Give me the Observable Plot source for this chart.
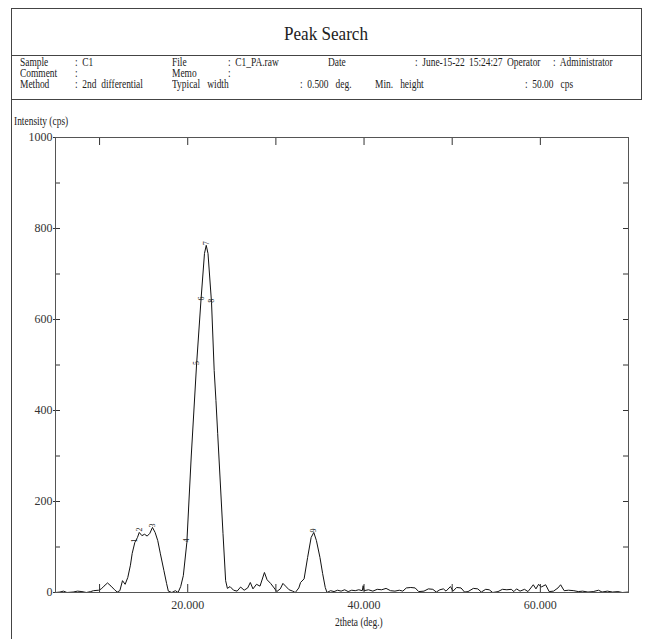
<!DOCTYPE html>
<html>
<head>
<meta charset="utf-8">
<script src="https://cdn.jsdelivr.net/npm/d3@7"></script>
<script src="https://cdn.jsdelivr.net/npm/@observablehq/plot@0.6"></script>
<style>
  html, body { margin: 0; padding: 0; background: #fff; }
  #wrap { position: relative; width: 648px; height: 639px; overflow: hidden;
          font-family: "Liberation Serif", "Times New Roman", serif; color: #222; }
  #chart { position: absolute; left: 0; top: 0; }
  .t { position: absolute; font-size: 11.5px; line-height: 10px; white-space: pre;
       transform: scaleX(0.82); transform-origin: 0 0; }
  .ln { position: absolute; background: #444; }
  #title { position: absolute; left: 11px; width: 630px; top: 24px; text-align: center;
           font-size: 19px; line-height: 20px; transform: scaleX(0.9); }
</style>
</head>
<body>
<div id="wrap">
  <div id="chart"></div>
</div>
<script>
// ---- data ----
const twoTheta = [
  5.0, 5.5, 5.9, 6.3, 7.0, 7.5, 8.0, 8.5, 9.0, 9.3, 9.9, 10.2, 10.5, 10.9, 11.3, 11.7,
  12.0, 12.3, 12.6, 12.9, 13.2, 13.5, 13.7, 14.0, 14.3, 14.5, 14.8, 15.1, 15.4, 15.7,
  16.0, 16.3, 16.6, 16.9, 17.3, 17.6, 17.8, 18.2, 18.6, 18.9, 19.2, 19.5, 19.9, 20.4,
  21.0, 21.5, 21.9, 22.1, 22.3, 22.7, 23.0, 23.2, 23.4, 24.0, 24.3, 24.5, 24.8, 25.2,
  25.6, 26.0, 26.4, 26.8, 27.1, 27.4, 27.8, 28.2, 28.7, 29.0, 29.4, 29.8, 30.1, 30.5,
  30.8, 31.1, 31.5, 31.9, 32.2, 32.6, 32.8, 33.2, 33.6, 34.0, 34.3, 34.6, 35.0, 35.3,
  35.6, 35.8, 36.2, 36.6, 37.0, 37.4, 37.8, 38.2, 38.6, 39.0, 39.4, 39.8, 39.9, 40.0,
  40.5, 41.0, 41.5, 42.0, 42.5, 43.0, 43.5, 44.0, 44.4, 44.8, 45.3, 45.8, 46.2, 46.8,
  47.3, 47.8, 48.2, 48.6, 49.0, 49.3, 49.8, 50.1, 50.5, 51.0, 51.4, 51.8, 52.4, 52.9,
  53.3, 53.8, 54.2, 54.6, 55.2, 55.7, 56.2, 56.7, 57.0, 57.3, 57.7, 58.2, 58.6, 59.2,
  59.5, 59.8, 60.1, 60.6, 61.0, 61.5, 62.0, 62.3, 62.7, 63.2, 63.8, 64.3, 64.8, 65.4,
  66.0, 66.6, 67.0, 67.6, 68.2, 68.8, 69.3, 70.0
];
const intensity = [
  0, 1, 3, 0, 1, 3, 2, 0, 2, 4, 5, 8, 14, 21, 14, 6,
  1, 4, 26, 18, 33, 60, 86, 110, 121, 132, 125, 128, 124, 130,
  143, 132, 114, 85, 48, 20, 3, 0, 4, 0, 13, 37, 110, 300,
  500, 642, 745, 763, 745, 637, 488, 422, 349, 130, 26, 9, 13, 5,
  3, 12, 5, 10, 22, 8, 18, 14, 44, 28, 20, 10, 2, 8,
  20, 14, 6, 3, 0, 10, 22, 30, 77, 121, 132, 114, 77, 42,
  11, 0, 4, 2, 5, 3, 6, 2, 5, 4, 6, 4, 15, 4,
  6, 3, 7, 6, 9, 4, 3, 5, 3, 10, 11, 10, 2, 3,
  8, 7, 1, 6, 8, 3, 13, 3, 11, 10, 1, 2, 9, 8,
  1, 7, 6, 0, 2, 7, 6, 7, 2, 8, 3, 7, 2, 17,
  8, 18, 12, 17, 2, 3, 10, 17, 4, 5, 4, 2, 3, 1,
  2, 5, 1, 3, 1, 2, 0, 1
];
const peakTheta     = [14.0, 14.5, 16.0, 19.9, 21.0, 21.5, 22.1, 22.7, 34.3];
const peakIntensity = [110, 134, 143, 110, 500, 642, 763, 637, 132];
const peakLabel     = ["1", "2", "3", "4", "5", "6", "7", "8", "9"];

const xLabelTicks = [20, 40, 60];
const xMinorTicks = [10, 20, 30, 40, 50, 60];
const yLabelTicks = [0, 200, 400, 600, 800, 1000];
const yMinorTicks = [100, 200, 300, 400, 500, 600, 700, 800, 900];

const headerRows = [
  [["Sample", 20], [":  C1", 75], ["File", 172], [":  C1_PA.raw", 228], ["Date", 328],
   [":  June-15-22", 415], ["15:24:27", 469], ["Operator", 507], [":  Administrator", 553]],
  [["Comment", 20], [":", 75], ["Memo", 172], [":", 228]],
  [["Method", 20], [":  2nd  differential", 75], ["Typical   width", 172],
   [":  0.500   deg.", 300], ["Min.   height", 375], [":  50.00   cps", 525]]
];
const headerRowTop = [57, 68, 79];

// ---- chart ----
const W = 648, H = 639, mL = 55, mR = 20, mT = 137, mB = 47;
const pw = W - mL - mR, ph = H - mT - mB;

const data = twoTheta.map((t, i) => ({t, v: intensity[i]}));
const peaks = peakTheta.map((t, i) => ({t, v: peakIntensity[i], label: peakLabel[i]}));

const chart = Plot.plot({
  width: W, height: H,
  marginLeft: mL, marginRight: mR, marginTop: mT, marginBottom: mB,
  style: {fontFamily: '"Liberation Serif", "Times New Roman", serif', fontSize: "12px",
          color: "#333", background: "transparent"},
  x: {domain: [5, 70]},
  y: {domain: [0, 1000]},
  marks: [
    Plot.line(data, {x: "t", y: "v", stroke: "#111", strokeWidth: 1}),
    Plot.text(peaks, {x: "t", y: "v", text: "label", rotate: -90, fontSize: 8, fill: "#222", dy: -2}),
    Plot.ruleX(xMinorTicks, {x: d => d, insetTop: ph - 8, stroke: "#333"}),
    Plot.ruleX(xMinorTicks, {x: d => d, insetBottom: ph - 8, stroke: "#333"}),
    Plot.ruleY(yMinorTicks, {y: d => d, insetRight: pw - 5, stroke: "#333"}),
    Plot.ruleY(yMinorTicks, {y: d => d, insetLeft: pw - 5, stroke: "#333"}),
    Plot.frame({stroke: "#555"}),
    Plot.axisY(yLabelTicks, {tickSize: 2, tickPadding: 1, tickFormat: "d", label: null, fill: "#333"}),
    Plot.axisX(xLabelTicks, {tickSize: 0, tickPadding: 8, tickFormat: ".3f", label: null, fill: "#333"})
  ]
});
document.getElementById("chart").appendChild(chart);

// ---- header / labels (real text) ----
const wrap = document.getElementById("wrap");
function add(cls, text, style) {
  const el = document.createElement("div");
  el.className = cls;
  if (text) el.textContent = text;
  Object.assign(el.style, style);
  wrap.appendChild(el);
  return el;
}
// border lines
add("ln", "", {left: "11px", top: "8px", width: "631px", height: "1px"});
add("ln", "", {left: "11px", top: "8px", width: "1px", height: "631px"});
add("ln", "", {left: "641px", top: "8px", width: "1px", height: "92px"});
add("ln", "", {left: "11px", top: "55px", width: "631px", height: "1px"});
add("ln", "", {left: "11px", top: "99px", width: "631px", height: "1px"});
const title = document.createElement("div");
title.id = "title"; title.textContent = "Peak Search"; wrap.appendChild(title);
headerRows.forEach((row, r) => row.forEach(([txt, x]) =>
  add("t", txt, {left: x + "px", top: headerRowTop[r] + "px"})));
add("t", "Intensity (cps)", {left: "14px", top: "116px"});
add("t", "2theta (deg.)", {left: "335px", top: "617px"});
</script>
</body>
</html>
